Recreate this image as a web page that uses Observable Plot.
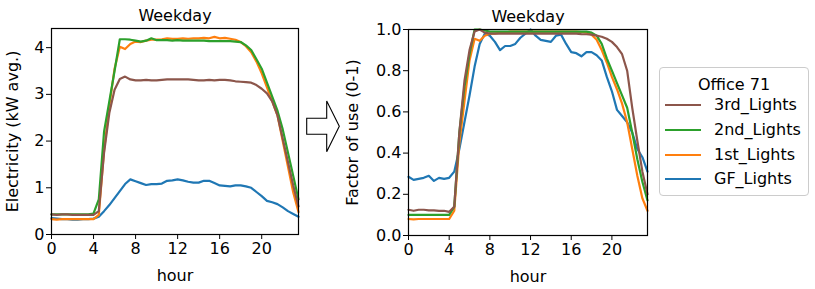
<!DOCTYPE html>
<html>
<head>
<meta charset="utf-8">
<script src="https://cdn.jsdelivr.net/npm/d3@7"></script>
<script src="https://cdn.jsdelivr.net/npm/@observablehq/plot@0.6"></script>
<style>
  html, body { margin: 0; padding: 0; background: #fff; }
  #root { position: relative; width: 815px; height: 289px; font-family: "DejaVu Sans", sans-serif; color: #000; overflow: hidden; }
  .abs { position: absolute; }
  #legend { position: absolute; left: 659px; top: 67px; width: 150px; height: 129px; border: 1px solid #ccc; border-radius: 4px; box-sizing: border-box; background: #fff; }
  .lt { position: absolute; font-size: 16px; line-height: 16px; white-space: nowrap; }
  .sw { position: absolute; height: 0; border-top: 2.4px solid; width: 36px; }
</style>
</head>
<body>
<div id="root"></div>
<script>
const hours = [0,0.5,1,1.5,2,2.5,3,3.5,4,4.5,5,5.5,6,6.5,7,7.5,8,8.5,9,9.5,10,10.5,11,11.5,12,12.5,13,13.5,14,14.5,15,15.5,16,16.5,17,17.5,18,18.5,19,19.5,20,20.5,21,21.5,22,22.5,23,23.5];

const seriesNames = ["3rd_Lights", "2nd_Lights", "1st_Lights", "GF_Lights"];
const seriesColors = ["#8c564b", "#2ca02c", "#ff7f0e", "#1f77b4"];
const legendTitle = "Office 71";
const panelTitle = "Weekday";
const xLabel = "hour";
const yLabelLeft = "Electricity (kW avg.)";
const yLabelRight = "Factor of use (0-1)";
const xTicks = [0,4,8,12,16,20];
const yTicksLeft = [0,1,2,3,4];
const yTicksRight = [0,0.2,0.4,0.6,0.8,1.0];

// Electricity (kW avg.)
const kw3rd = [0.43,0.42,0.43,0.43,0.42,0.42,0.42,0.42,0.42,0.5,1.75,2.6,3.1,3.33,3.38,3.32,3.3,3.3,3.31,3.3,3.3,3.31,3.32,3.32,3.32,3.32,3.32,3.31,3.3,3.3,3.31,3.3,3.31,3.31,3.3,3.28,3.27,3.26,3.25,3.2,3.12,3.02,2.85,2.55,2.05,1.55,1.05,0.6];
const kw2nd = [0.43,0.43,0.43,0.43,0.43,0.43,0.43,0.43,0.45,0.75,2.2,2.85,3.5,4.18,4.18,4.17,4.15,4.13,4.15,4.2,4.16,4.16,4.16,4.15,4.16,4.15,4.15,4.15,4.15,4.15,4.14,4.14,4.14,4.14,4.14,4.13,4.12,4.05,3.95,3.75,3.55,3.25,2.95,2.65,2.25,1.75,1.25,0.75];
const kw1st = [0.33,0.32,0.33,0.33,0.33,0.33,0.33,0.33,0.33,0.42,1.8,2.75,3.55,4.02,3.97,4.08,4.13,4.12,4.15,4.17,4.17,4.18,4.2,4.19,4.19,4.2,4.19,4.2,4.2,4.21,4.2,4.23,4.2,4.21,4.19,4.17,4.12,4.03,3.9,3.7,3.45,3.15,2.85,2.55,2.0,1.45,0.9,0.48];
const kwGF = [0.35,0.34,0.33,0.33,0.32,0.32,0.33,0.33,0.34,0.38,0.5,0.63,0.78,0.93,1.08,1.18,1.14,1.1,1.06,1.08,1.08,1.09,1.15,1.16,1.18,1.16,1.13,1.11,1.11,1.15,1.15,1.1,1.05,1.04,1.03,1.05,1.05,1.03,1.0,0.91,0.82,0.72,0.69,0.65,0.58,0.5,0.44,0.38];

// Factor of use (0-1)
const fu3rd = [0.125,0.12,0.125,0.125,0.122,0.122,0.12,0.12,0.115,0.14,0.5,0.75,0.9,0.99,1.0,0.985,0.98,0.98,0.98,0.98,0.98,0.98,0.98,0.98,0.98,0.98,0.98,0.98,0.98,0.98,0.98,0.98,0.98,0.98,0.978,0.977,0.975,0.97,0.965,0.955,0.94,0.915,0.88,0.8,0.62,0.46,0.31,0.2];
const fu2nd = [0.1,0.1,0.1,0.1,0.1,0.1,0.1,0.1,0.1,0.14,0.5,0.72,0.88,1.0,1.0,0.995,0.99,0.99,0.99,0.99,0.99,0.99,0.99,0.99,0.99,0.99,0.99,0.99,0.99,0.99,0.99,0.99,0.99,0.99,0.99,0.99,0.985,0.97,0.93,0.86,0.8,0.74,0.68,0.62,0.5,0.37,0.26,0.17];
const fu1st = [0.08,0.078,0.08,0.08,0.08,0.08,0.08,0.08,0.08,0.12,0.45,0.65,0.85,0.955,0.945,0.97,0.98,0.98,0.985,0.985,0.99,0.99,0.99,0.99,0.99,0.99,0.99,0.99,0.99,0.99,0.99,0.99,0.99,0.99,0.988,0.985,0.975,0.95,0.9,0.84,0.77,0.71,0.64,0.55,0.42,0.29,0.18,0.12];
const fuGF = [0.285,0.27,0.275,0.28,0.29,0.265,0.28,0.275,0.28,0.31,0.42,0.55,0.68,0.82,0.93,0.98,0.97,0.94,0.9,0.92,0.92,0.93,0.96,0.98,1.0,0.97,0.95,0.945,0.94,0.97,0.975,0.93,0.89,0.885,0.87,0.89,0.89,0.875,0.85,0.77,0.7,0.61,0.58,0.55,0.5,0.42,0.38,0.31];

function longTable(arrays) {
  const rows = [];
  // draw order: GF first, 3rd last (on top)
  for (let s = arrays.length - 1; s >= 0; s--) {
    arrays[s].forEach((v, i) => rows.push({ series: seriesNames[s], hour: hours[i], value: v }));
  }
  return rows;
}
const leftData = longTable([kw3rd, kw2nd, kw1st, kwGF]);
const rightData = longTable([fu3rd, fu2nd, fu1st, fuGF]);

const FONT = "DejaVu Sans";

function panel({data, width, ml, mr, mt, mb, yDomain, yTicks, yFmt, yLabel, yLabelDx}) {
  return Plot.plot({
    width, height: 289,
    marginLeft: ml, marginRight: mr, marginTop: mt, marginBottom: mb,
    style: { fontFamily: FONT, fontSize: "16px", color: "#000", background: "transparent", overflow: "visible" },
    x: { domain: [0, 23.5], label: null },
    y: { domain: yDomain, label: null },
    color: { domain: seriesNames, range: seriesColors },
    marks: [
      Plot.line(data, { x: "hour", y: "value", z: "series", stroke: "series", strokeWidth: 2.2, strokeLinejoin: "round" }),
      Plot.frame({ stroke: "#000", strokeWidth: 1.2 }),
      Plot.axisX({ ticks: xTicks, tickSize: 5, tickPadding: 3, label: null, fontSize: 16 }),
      Plot.axisY({ ticks: yTicks, tickSize: 5, tickPadding: 2, label: null, tickFormat: yFmt, fontSize: 16 }),
      Plot.text([panelTitle], { text: d => d, frameAnchor: "top", dy: -19, fontSize: 16, fill: "#000" }),
      Plot.text([xLabel], { text: d => d, frameAnchor: "bottom", dy: 46, fontSize: 16, fill: "#000" }),
      Plot.text([yLabel], { text: d => d, frameAnchor: "left", textAnchor: "middle", dx: yLabelDx, rotate: -90, fontSize: 16, fill: "#000" })
    ]
  });
}

const root = document.getElementById("root");

const left = panel({ data: leftData, width: 310, ml: 51, mr: 12, mt: 28, mb: 55,
  yDomain: [0, 4.41], yTicks: yTicksLeft, yFmt: d3.format("d"), yLabel: yLabelLeft, yLabelDx: -39 });
left.classList.add("abs");
left.style.left = "0px"; left.style.top = "0px";
root.appendChild(left);

const right = panel({ data: rightData, width: 320, ml: 68, mr: 13, mt: 29, mb: 54,
  yDomain: [0, 1], yTicks: yTicksRight, yFmt: d3.format(".1f"), yLabel: yLabelRight, yLabelDx: -56 });
right.classList.add("abs");
right.style.left = "340px"; right.style.top = "0px";
root.appendChild(right);

// arrow between panels
const ns = "http://www.w3.org/2000/svg";
const arrow = document.createElementNS(ns, "svg");
arrow.setAttribute("width", 815); arrow.setAttribute("height", 289);
arrow.setAttribute("class", "abs");
arrow.style.left = "0px"; arrow.style.top = "0px"; arrow.style.pointerEvents = "none";
const poly = document.createElementNS(ns, "polygon");
poly.setAttribute("points", "306.7,118.3 326.7,118.3 326.7,101 339.3,126.3 326.7,151.7 326.7,134.3 306.7,134.3");
poly.setAttribute("fill", "#fff"); poly.setAttribute("stroke", "#000"); poly.setAttribute("stroke-width", "1.1");
arrow.appendChild(poly);
root.appendChild(arrow);

// legend
const legend = document.createElement("div");
legend.id = "legend";
const t = document.createElement("div");
t.className = "lt"; t.textContent = legendTitle;
t.style.left = "0px"; t.style.width = "148px"; t.style.textAlign = "center"; t.style.top = (82 - 67 - 6) + "px";
legend.appendChild(t);
const rowY = [105, 130, 155, 179];
seriesNames.forEach((name, i) => {
  const sw = document.createElement("div");
  sw.className = "sw"; sw.style.borderTopColor = seriesColors[i];
  sw.style.left = (665 - 660) + "px"; sw.style.top = (rowY[i] - 68 - 1) + "px";
  legend.appendChild(sw);
  const lab = document.createElement("div");
  lab.className = "lt"; lab.textContent = name;
  lab.style.left = (714 - 660) + "px"; lab.style.top = (rowY[i] - 68 - 8) + "px";
  legend.appendChild(lab);
});
root.appendChild(legend);
</script>
</body>
</html>
